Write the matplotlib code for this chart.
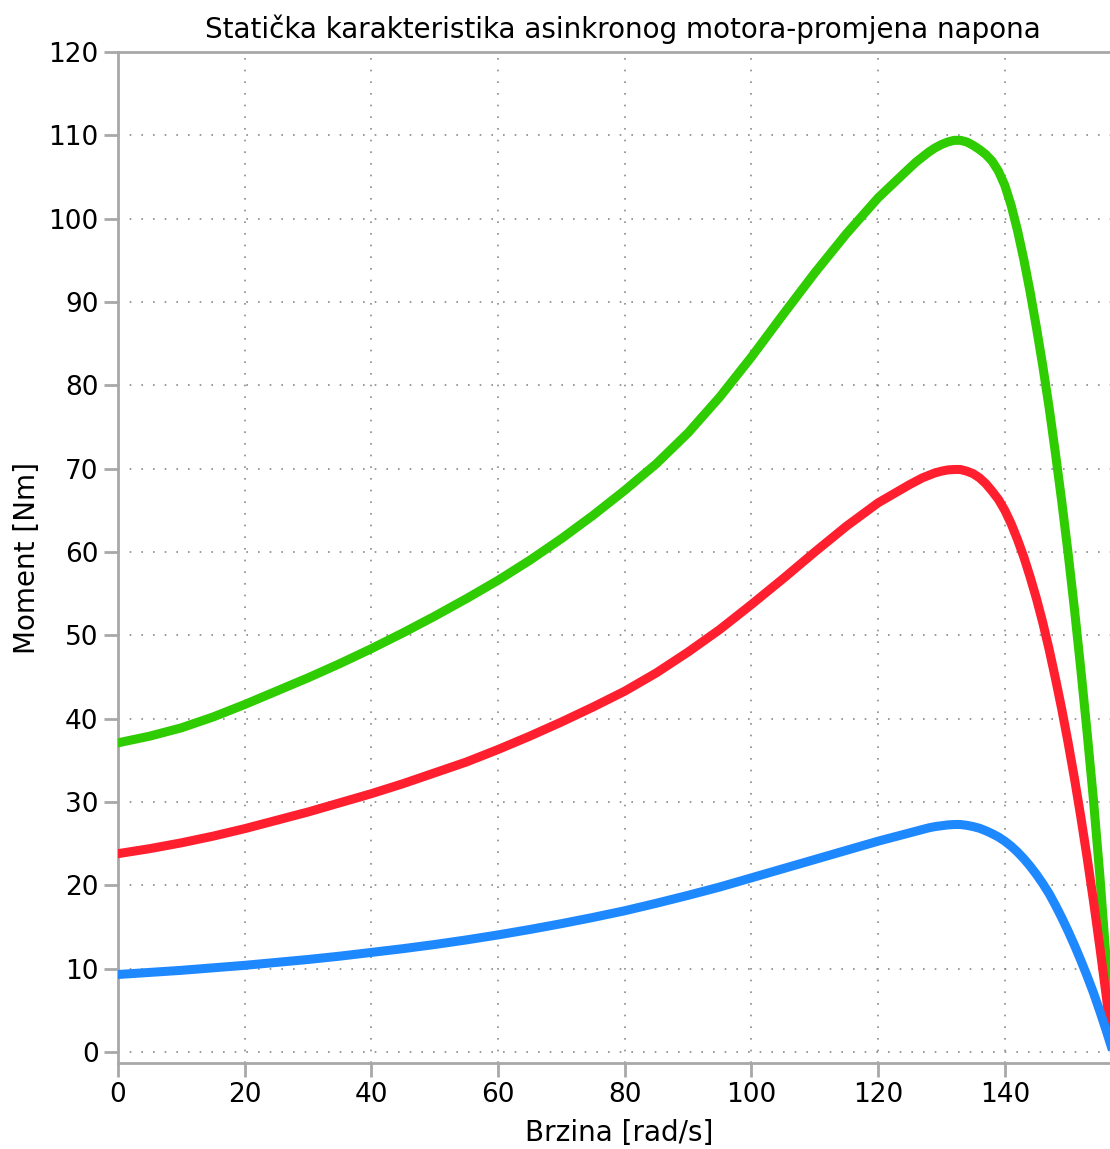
import numpy as np
import matplotlib
matplotlib.use("Agg")
import matplotlib.pyplot as plt

# brzina [rad/s] i moment [Nm] ocitani sa slike
speed = [0, 5, 10, 15, 20, 25, 30, 35, 40, 45, 50, 55, 60, 65, 70, 75, 80, 85, 90,
         95, 100, 105, 110, 115, 120, 125,
         126, 127, 128, 129, 130, 131,
         132, 133, 134, 135, 136, 137, 138, 139, 140, 141, 142, 143, 144, 145, 146,
         147, 148, 149, 150, 151, 152, 153, 154, 155, 156,
         157.08]

# Un
torque_green = [37.1, 37.9, 38.9, 40.2, 41.7, 43.3, 44.9, 46.6, 48.4, 50.3, 52.3, 54.4,
                56.6, 59.0, 61.6, 64.4, 67.4, 70.6, 74.3, 78.6, 83.4, 88.5, 93.5, 98.2,
                102.5, 106.1,
                106.8, 107.4, 108.0, 108.5, 108.9, 109.2,
                109.4, 109.4, 109.2, 108.8, 108.3, 107.7, 106.9, 105.7, 104.0, 101.6,
                98.6, 95.1, 91.2, 86.9, 82.3, 77.3, 71.8, 66.0, 59.8, 53.1, 45.9, 38.3,
                30.2, 21.2, 11.0,
                0.0]
# 0.8 Un
torque_red = [23.8, 24.4, 25.1, 25.9, 26.8, 27.8, 28.8, 29.9, 31.0, 32.2, 33.5, 34.8,
              36.3, 37.9, 39.6, 41.4, 43.3, 45.5, 48.0, 50.7, 53.7, 56.8, 60.0, 63.1,
              65.9, 68.1,
              68.5, 68.9, 69.2, 69.5, 69.7, 69.85,
              69.9, 69.9, 69.7, 69.4, 68.9, 68.2, 67.3, 66.3, 65.0, 63.4, 61.5, 59.4,
              57.0, 54.4, 51.5, 48.3, 44.8, 41.1, 37.1, 32.8, 28.2, 23.3, 18.1, 12.6,
              6.8,
              0.0]
# 0.5 Un
torque_blue = [9.3, 9.55, 9.8, 10.1, 10.4, 10.75, 11.1, 11.5, 11.95, 12.4, 12.9, 13.45,
               14.05, 14.7, 15.4, 16.15, 16.95, 17.85, 18.8, 19.8, 20.9, 22.0, 23.1,
               24.2, 25.3, 26.3,
               26.5, 26.7, 26.9, 27.05, 27.15, 27.25,
               27.3, 27.3, 27.2, 27.05, 26.85, 26.55, 26.2, 25.8, 25.3, 24.7, 24.0,
               23.2, 22.3, 21.3, 20.2, 19.0, 17.6, 16.1, 14.5, 12.8, 11.0, 9.1, 7.1,
               4.9, 2.6,
               0.0]

x_ticks = [0, 20, 40, 60, 80, 100, 120, 140]
y_ticks = [0, 10, 20, 30, 40, 50, 60, 70, 80, 90, 100, 110, 120]

W, H = 1110, 1149
fig = plt.figure(figsize=(W / 100, H / 100), dpi=100)
ax = fig.add_axes([118 / W, (H - 1063) / H, (1113 - 118) / W, (1063 - 52) / H])

ax.plot(speed, torque_green, color="#2ecc00", lw=6.5, zorder=3)
ax.plot(speed, torque_red, color="#ff1f2f", lw=6.5, zorder=3)
ax.plot(speed, torque_blue, color="#1e88ff", lw=6.5, zorder=3)

ax.set_xlim(0, 157.08)
ax.set_ylim(-1.32, 120)
ax.set_xticks(x_ticks)
ax.set_yticks(y_ticks)

gc = "#a8a8a8"
for xv in x_ticks[1:]:
    ax.axvline(xv, color="#8a8a8a", lw=1.2, ls=(0, (1, 6)), zorder=1)
for yv in y_ticks[:-1]:
    ax.axhline(yv, color="#8a8a8a", lw=1.2, ls=(0, (1, 6)), zorder=1)

for s in ["left", "bottom", "top"]:
    ax.spines[s].set_color(gc)
    ax.spines[s].set_linewidth(2)
ax.spines["right"].set_visible(False)

ax.tick_params(axis="both", colors=gc, width=2, length=10, labelsize=19,
               labelcolor="black", direction="out", pad=4)

fig.text(623 / W, 1 - 29 / H, "Statička karakteristika asinkronog motora-promjena napona",
         ha="center", va="center", fontsize=20)
fig.text(619 / W, 1 - 1133 / H, "Brzina [rad/s]", ha="center", va="center", fontsize=20)
fig.text(27 / W, 1 - 558 / H, "Moment [Nm]", ha="center", va="center", fontsize=20,
         rotation=90)

fig.savefig("out.png", dpi=100)
